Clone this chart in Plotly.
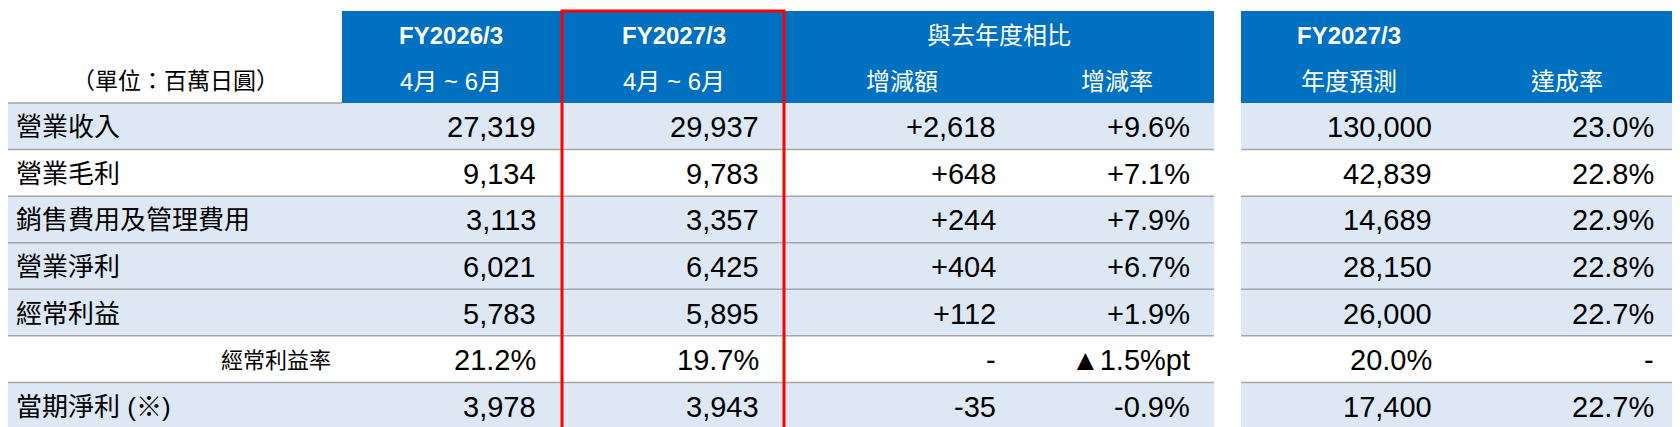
import plotly.graph_objects as go

row_labels = ["營業收入", "營業毛利", "銷售費用及管理費用", "營業淨利", "經常利益", "經常利益率", "當期淨利 (※)"]
fy2026 = ["27,319", "9,134", "3,113", "6,021", "5,783", "21.2%", "3,978"]
fy2027 = ["29,937", "9,783", "3,357", "6,425", "5,895", "19.7%", "3,943"]
diff = ["+2,618", "+648", "+244", "+404", "+112", "-", "-35"]
rate = ["+9.6%", "+7.1%", "+7.9%", "+6.7%", "+1.9%", "▲1.5%pt", "-0.9%"]
forecast = ["130,000", "42,839", "14,689", "28,150", "26,000", "20.0%", "17,400"]
achieve = ["23.0%", "22.8%", "22.9%", "22.8%", "22.7%", "-", "22.7%"]
shaded = [True, False, True, True, True, False, True]

hdr1 = ["FY2026/3", "FY2027/3", "與去年度相比", None, "FY2027/3", None]
hdr2 = ["4月 ~ 6月", "4月 ~ 6月", "增減額", "增減率", "年度預測", "達成率"]
unit_label = "（單位：百萬日圓）"

BLUE = "#0070C0"
LIGHT = "#DDE8F4"
LINE = "#A6A6A6"
FONT = "Liberation Sans, Noto Sans CJK TC, sans-serif"

cols = [(0, 334), (334, 552), (556, 775), (775, 1012), (1012, 1206), (1233, 1448), (1448, 1670)]
top, hmid, hbot = 3, 49, 95
rh = (421 - hbot) / 7

fig = go.Figure()
shapes, ann = [], []

for (x0, x1) in [(334, 1206), (1233, 1670)]:
    shapes.append(dict(type="rect", x0=x0, x1=x1, y0=top, y1=hbot, fillcolor=BLUE, line_width=0, layer="below"))

data_cols = [fy2026, fy2027, diff, rate, forecast, achieve]
for i in range(7):
    y0 = hbot + i * rh
    y1 = y0 + rh
    for seg in [(0, 1206), (1233, 1670)]:
        if shaded[i]:
            shapes.append(dict(type="rect", x0=seg[0], x1=seg[1], y0=y0, y1=y1, fillcolor=LIGHT, line_width=0, layer="below"))
        shapes.append(dict(type="line", x0=seg[0], x1=seg[1], y0=y1, y1=y1, line=dict(color=LINE, width=1.5)))
    if i == 0:
        shapes.append(dict(type="line", x0=0, x1=334, y0=y0, y1=y0, line=dict(color=LINE, width=1.5)))
    yc = (y0 + y1) / 2 + 1
    if row_labels[i] == "經常利益率":
        ann.append(dict(x=325, y=yc, text=row_labels[i], xanchor="right", font=dict(size=22, color="black")))
    else:
        ann.append(dict(x=6, y=yc, text=row_labels[i], xanchor="left", font=dict(size=26, color="black")))
    for j, col in enumerate(data_cols):
        c = cols[j + 1]
        ann.append(dict(x=c[1] - 22, y=yc, text=col[i], xanchor="right", font=dict(size=29, color="black")))

for j in range(6):
    c = cols[j + 1]
    xc = (c[0] + c[1]) / 2
    if hdr1[j] is not None:
        xh = (cols[3][0] + cols[4][1]) / 2 if j == 2 else xc
        txt = ("<b>%s</b>" % hdr1[j]) if hdr1[j].startswith("FY") else hdr1[j]
        ann.append(dict(x=xh, y=(top + hmid) / 2 + 1, text=txt, font=dict(size=24, color="white")))
    ann.append(dict(x=xc, y=(hmid + hbot) / 2 + 1, text=hdr2[j], font=dict(size=24, color="white")))
ann.append(dict(x=167, y=(hmid + hbot) / 2 + 1, text=unit_label, font=dict(size=23, color="black")))

shapes.append(dict(type="rect", x0=554, x1=776, y0=3, y1=421, line=dict(color="#FF0000", width=3), fillcolor="rgba(0,0,0,0)"))

for a in ann:
    a.update(xref="x", yref="y", showarrow=False, yanchor="middle")

fig.update_layout(
    width=1680, height=427, margin=dict(l=0, r=0, t=0, b=0),
    paper_bgcolor="white", plot_bgcolor="white",
    xaxis=dict(range=[0, 1680], visible=False, fixedrange=True),
    yaxis=dict(range=[427, 0], visible=False, fixedrange=True),
    shapes=shapes, annotations=ann, font=dict(family=FONT), showlegend=False,
)
fig.write_html("out.html", config={"displayModeBar": False})
